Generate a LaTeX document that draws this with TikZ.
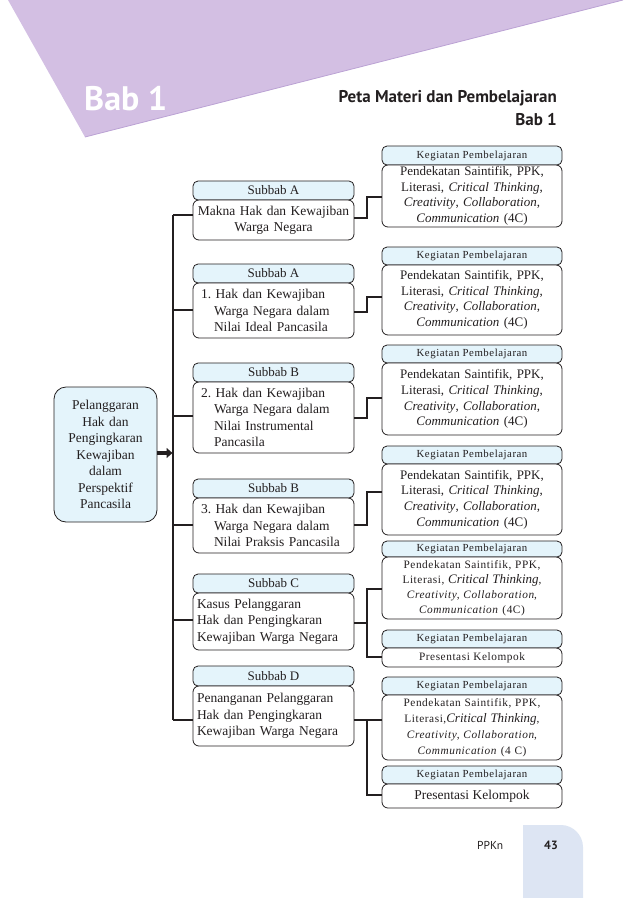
\documentclass[tikz,border=0pt]{standalone}
\usepackage{fontspec}
\setmainfont{Liberation Serif}
\newfontfamily\lsfont[LetterSpace=5]{Liberation Serif}
\newfontfamily\ptsans{PT Sans}
\usetikzlibrary{arrows.meta}
\definecolor{purp}{HTML}{D3BFE3}
\definecolor{purpedge}{HTML}{BBA2D4}
\definecolor{hdr}{HTML}{E4F4FB}
\definecolor{ink}{HTML}{231F20}
\definecolor{pagebox}{HTML}{DDE5F3}
\newcommand{\subfont}{\fontsize{13}{15}\selectfont}
\newcommand{\bodyfont}{\fontsize{13.5}{16.3}\selectfont}
\newcommand{\kegfont}{\lsfont\fontsize{10.8}{13}\selectfont}
\newcommand{\kegtxtfont}{\fontsize{13}{15.6}\selectfont}
\newcommand{\kegsmallfont}{\lsfont\fontsize{11.3}{15}\selectfont}
\frenchspacing
\begin{document}
\begin{tikzpicture}[x=1pt,y=-1pt,
  hdrbox/.style={draw=ink, fill=hdr, rounded corners=5pt, line width=0.8pt, inner sep=0pt, text=ink},
  cbox/.style={draw=ink, fill=white, rounded corners=6pt, line width=0.8pt, inner sep=0pt, text=ink},
  lcol/.style={minimum width=161pt},
  rcol/.style={minimum width=180pt},
  ltxt/.style={text width=153pt, align=left, font=\bodyfont},
  ctxt/.style={text width=153pt, align=center, font=\bodyfont},
  ktxt/.style={text width=174pt, align=center, font=\kegtxtfont},
  ksmall/.style={text width=174pt, align=center, font=\kegsmallfont},
  conn/.style={draw=ink, line width=2.6pt},
]
\useasboundingbox (0,0) rectangle (638,898);
% header band
\fill[purp] (8,0) -- (623,0) -- (85,137) -- cycle;
\draw[purpedge, line width=0.8pt] (85,137) -- (623,0);
\node[anchor=base west, text=white, inner sep=0pt, font=\ptsans\bfseries\fontsize{34}{34}\selectfont] (bab) at (84,110) {Bab 1};
\node[anchor=base east, text=ink, inner sep=0pt, font=\ptsans\bfseries\fontsize{17}{20}\selectfont] (title) at (557,102) {Peta Materi dan Pembelajaran};
\node[anchor=base east, text=ink, inner sep=0pt, font=\ptsans\bfseries\fontsize{17}{20}\selectfont] (title2) at (557,125) {Bab 1};

% main box
\node[cbox, fill=hdr, rounded corners=12pt, minimum width=103pt, minimum height=135pt, text width=100pt, align=center, font=\fontsize{13.5}{16.5}\selectfont] (main) at (105.5,454.5) {Pelanggaran\\Hak dan\\Pengingkaran\\Kewajiban\\dalam\\Perspektif\\Pancasila};

% left column
\node[hdrbox,lcol,minimum height=19pt,font=\subfont] (sa1h) at (273.5,190.5) {Subbab A};
\node[cbox,lcol,minimum height=40pt,ctxt] (sa1c) at (273.5,220) {Makna Hak dan Kewajiban\\Warga Negara};
\node[hdrbox,lcol,minimum height=19pt,font=\subfont] (sa2h) at (273.5,273.5) {Subbab A};
\node[cbox,lcol,minimum height=55pt,ltxt] (sa2c) at (273.5,310.5) {\hspace*{4pt}1. Hak dan Kewajiban\\\hspace*{17pt}Warga Negara dalam\\\hspace*{17pt}Nilai Ideal Pancasila};
\node[hdrbox,lcol,minimum height=19pt,font=\subfont] (sb1h) at (273.5,372.5) {Subbab B};
\node[cbox,lcol,minimum height=71pt,ltxt] (sb1c) at (273.5,417.5) {\hspace*{4pt}2. Hak dan Kewajiban\\\hspace*{17pt}Warga Negara dalam\\\hspace*{17pt}Nilai Instrumental\\\hspace*{17pt}Pancasila};
\node[hdrbox,lcol,minimum height=19pt,font=\subfont] (sb2h) at (273.5,488.5) {Subbab B};
\node[cbox,lcol,minimum height=55pt,ltxt] (sb2c) at (273.5,525.5) {\hspace*{4pt}3. Hak dan Kewajiban\\\hspace*{17pt}Warga Negara dalam\\\hspace*{17pt}Nilai Praksis Pancasila};
\node[hdrbox,lcol,minimum height=19pt,font=\subfont] (sch) at (273.5,583.5) {Subbab C};
\node[cbox,lcol,minimum height=57pt,ltxt] (scc) at (273.5,621.5) {Kasus Pelanggaran\\Hak dan Pengingkaran\\Kewajiban Warga Negara};
\node[hdrbox,lcol,minimum height=20pt,font=\subfont] (sdh) at (273.5,676) {Subbab D};
\node[cbox,lcol,minimum height=60pt,ltxt] (sdc) at (273.5,716) {Penanganan Pelanggaran\\Hak dan Pengingkaran\\Kewajiban Warga Negara};

% right column
\node[hdrbox,rcol,minimum height=19pt,font=\kegfont] (k1h) at (472,155.5) {Kegiatan Pembelajaran};
\node[cbox,rcol,minimum height=62pt,ktxt] (k1c) at (472,196) {Pendekatan Saintifik, PPK,\\Literasi, \textit{Critical Thinking},\\\textit{Creativity}, \textit{Collaboration},\\\textit{Communication} (4C)};
\node[hdrbox,rcol,minimum height=18pt,font=\kegfont] (k2h) at (472,256) {Kegiatan Pembelajaran};
\node[cbox,rcol,minimum height=70pt,ktxt] (k2c) at (472,300) {Pendekatan Saintifik, PPK,\\Literasi, \textit{Critical Thinking},\\\textit{Creativity}, \textit{Collaboration},\\\textit{Communication} (4C)};
\node[hdrbox,rcol,minimum height=18pt,font=\kegfont] (k3h) at (472,354) {Kegiatan Pembelajaran};
\node[cbox,rcol,minimum height=72pt,ktxt] (k3c) at (472,399) {Pendekatan Saintifik, PPK,\\Literasi, \textit{Critical Thinking},\\\textit{Creativity}, \textit{Collaboration},\\\textit{Communication} (4C)};
\node[hdrbox,rcol,minimum height=18pt,font=\kegfont] (k4h) at (472,455) {Kegiatan Pembelajaran};
\node[cbox,rcol,minimum height=71pt,ktxt] (k4c) at (472,499.5) {Pendekatan Saintifik, PPK,\\Literasi, \textit{Critical Thinking},\\\textit{Creativity}, \textit{Collaboration},\\\textit{Communication} (4C)};
\node[hdrbox,rcol,minimum height=16pt,font=\kegfont] (k5h) at (472,549) {Kegiatan Pembelajaran};
\node[cbox,rcol,minimum height=62pt,ksmall] (k5c) at (472,588) {Pendekatan Saintifik, PPK,\\Literasi, {\normalfont\fontsize{13}{15}\selectfont\textit{Critical Thinking}},\\\textit{Creativity}, \textit{Collaboration},\\\textit{Communication} (4C)};
\node[hdrbox,rcol,minimum height=18pt,font=\kegfont] (k6h) at (472,639) {Kegiatan Pembelajaran};
\node[cbox,rcol,minimum height=19pt,font=\kegsmallfont] (k6c) at (472,657.5) {Presentasi Kelompok};
\node[hdrbox,rcol,minimum height=18pt,font=\kegfont] (k7h) at (472,686) {Kegiatan Pembelajaran};
\node[cbox,rcol,minimum height=65pt,ksmall,font=\lsfont\fontsize{11.3}{16}\selectfont] (k7c) at (472,727.5) {Pendekatan Saintifik, PPK,\\Literasi,{\normalfont\fontsize{13}{15}\selectfont\textit{Critical Thinking}},\\\textit{Creativity}, \textit{Collaboration},\\\textit{Communication} (4 C)};
\node[hdrbox,rcol,minimum height=18pt,font=\kegfont] (k8h) at (472,775) {Kegiatan Pembelajaran};
\node[cbox,rcol,minimum height=24pt,font=\fontsize{13.5}{16}\selectfont] (k8c) at (472,796) {Presentasi Kelompok};

% trunk and arrow
\coordinate (b1) at (173,215);
\coordinate (b2) at (173,310);
\coordinate (b3) at (173,416);
\coordinate (b4) at (173,525);
\coordinate (b5) at (173,620);
\coordinate (b6) at (173,720);
\coordinate (arrtip) at (172.5,453);
\draw[conn] (b1) -- (b6);
\draw[conn] (b1) -- (sa1c.west |- b1);
\draw[conn] (b2) -- (sa2c.west |- b2);
\draw[conn] (b3) -- (sb1c.west |- b3);
\draw[conn] (b4) -- (sb2c.west |- b4);
\draw[conn] (b5) -- (scc.west |- b5);
\draw[conn] (b6) -- (sdc.west |- b6);
\draw[draw=ink, line width=4pt, -{Triangle[length=6pt,width=10pt]}] (main.east |- arrtip) -- (arrtip);

% right connectors
\coordinate (r1) at (367,218);
\coordinate (r2) at (367,312);
\coordinate (r3) at (367,418);
\coordinate (r4) at (367,525);
\coordinate (r5) at (367,623);
\coordinate (r6) at (367,720);
\coordinate (q1) at (367,197);
\coordinate (q2) at (367,297);
\coordinate (q3) at (367,398);
\coordinate (q4) at (367,492);
\coordinate (q5a) at (367,589);
\coordinate (q5b) at (367,657);
\coordinate (q6b) at (367,795);
\draw[conn] (sa1c.east |- r1) -- (r1) -- (q1) -- (k1c.west |- q1);
\draw[conn] (sa2c.east |- r2) -- (r2) -- (q2) -- (k2c.west |- q2);
\draw[conn] (sb1c.east |- r3) -- (r3) -- (q3) -- (k3c.west |- q3);
\draw[conn] (sb2c.east |- r4) -- (r4) -- (q4) -- (k4c.west |- q4);
\draw[conn] (scc.east |- r5) -- (r5);
\draw[conn] (k5c.west |- q5a) -- (q5a) -- (q5b) -- (k6c.west |- q5b);
\draw[conn] (sdc.east |- r6) -- (k7c.west |- r6);
\draw[conn] (r6) -- (q6b) -- (k8c.west |- q6b);

% footer
\fill[pagebox] (523,898) -- (523,825) -- (561,825) .. controls (573,825) and (583,835) .. (583,847) -- (583,898) -- cycle;
\node[anchor=base west, inner sep=0pt, text=ink, font=\ptsans\fontsize{11.5}{12}\selectfont] (ppkn) at (477,849) {PPKn};
\node[anchor=base, inner sep=0pt, text=ink, font=\ptsans\bfseries\fontsize{12}{12}\selectfont] (pg) at (551,849) {43};
\end{tikzpicture}
\end{document}
